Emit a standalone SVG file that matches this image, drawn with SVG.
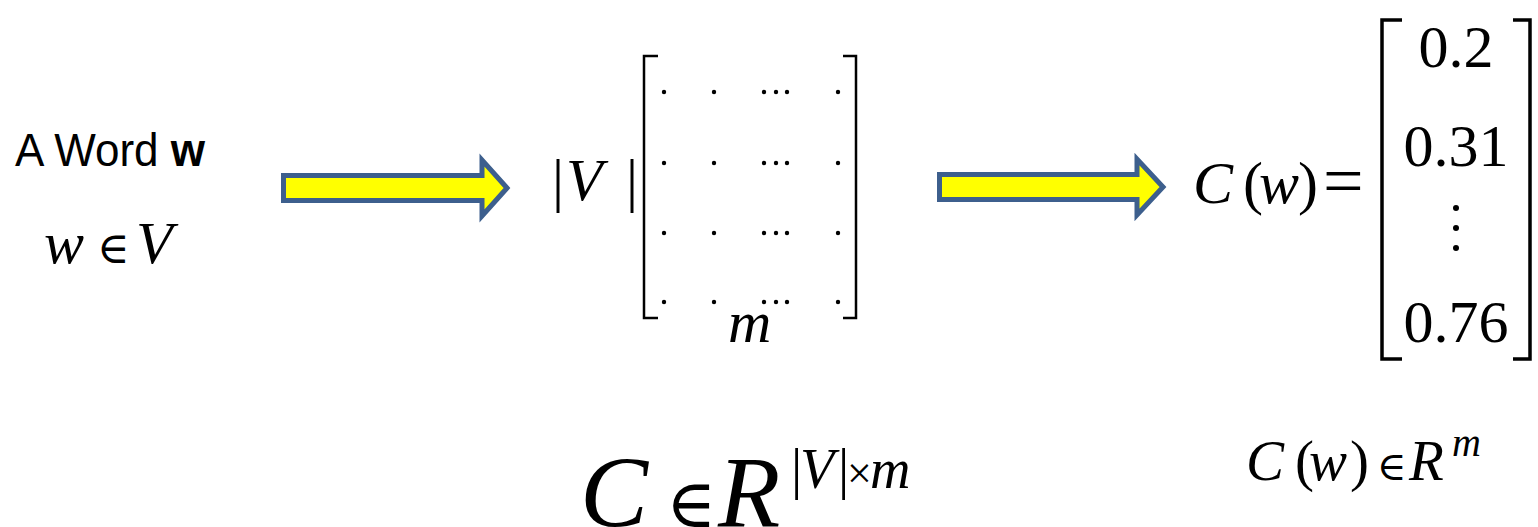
<svg xmlns="http://www.w3.org/2000/svg" width="1538" height="527" viewBox="0 0 1538 527">
<style>
.sans{font-family:"Liberation Sans","Open Sans",sans-serif;fill:#000}
.m{font-family:"Liberation Serif","DejaVu Serif",serif;fill:#000}
.i{font-style:italic}
.arrow{fill:#FFFF00;stroke:#3D5F8D;stroke-width:5;stroke-linejoin:miter}
.br{fill:none;stroke:#000;stroke-width:2.5}
.br2{fill:none;stroke:#000;stroke-width:3.5}
</style>
<g id="word">
<text class="sans" x="15" y="166" font-size="46" textLength="190" lengthAdjust="spacingAndGlyphs">A Word <tspan font-weight="bold">w</tspan></text>
<text class="m" y="263" font-size="60"><tspan class="i" x="44">w</tspan><tspan x="97" font-size="44">∈</tspan><tspan class="i" x="136">V</tspan></text>
</g>
<g id="connectors">
<path class="arrow" d="M283.5,175.5 H482 V160 L507,188 L482,216 V200.5 H283.5 Z"/>
<path class="arrow" d="M939.5,174.5 H1137 V159 L1163,187 L1137,215 V199.5 H939.5 Z"/>
</g>
<g id="matrix">
<text class="m" y="200" font-size="60"><tspan x="552">|</tspan><tspan class="i" x="566">V</tspan><tspan x="626">|</tspan></text>
<path class="br" d="M658,56 H644 V318 H658"/>
<path class="br" d="M843,56 H856 V318 H843"/>
<g fill="#000">
<circle cx="664" cy="92" r="2.2"/><circle cx="714" cy="92" r="2.2"/><circle cx="764" cy="92" r="2.2"/><circle cx="776" cy="92" r="2.2"/><circle cx="787" cy="92" r="2.2"/><circle cx="838" cy="92" r="2.2"/>
<circle cx="664" cy="163" r="2.2"/><circle cx="714" cy="163" r="2.2"/><circle cx="764" cy="163" r="2.2"/><circle cx="776" cy="163" r="2.2"/><circle cx="787" cy="163" r="2.2"/><circle cx="838" cy="163" r="2.2"/>
<circle cx="664" cy="233" r="2.2"/><circle cx="714" cy="233" r="2.2"/><circle cx="764" cy="233" r="2.2"/><circle cx="776" cy="233" r="2.2"/><circle cx="787" cy="233" r="2.2"/><circle cx="838" cy="233" r="2.2"/>
<circle cx="664" cy="302" r="2.2"/><circle cx="714" cy="302" r="2.2"/><circle cx="764" cy="302" r="2.2"/><circle cx="776" cy="302" r="2.2"/><circle cx="787" cy="302" r="2.2"/><circle cx="838" cy="302" r="2.2"/>
</g>
<text class="m i" x="728" y="342" font-size="60">m</text>
</g>
<g id="vector">
<text class="m" y="203" font-size="60"><tspan class="i" x="1193">C</tspan><tspan x="1243">(</tspan><tspan class="i" x="1259">w</tspan><tspan x="1298">)</tspan><tspan x="1323" y="205" font-size="72">=</tspan></text>
<path class="br2" d="M1402,20 H1382 V359 H1402"/>
<path class="br2" d="M1513,20 H1530 V359 H1513"/>
<g class="m" font-size="60" text-anchor="middle">
<text x="1456" y="67">0.2</text>
<text x="1456" y="166">0.31</text>
<text x="1456" y="342">0.76</text>
</g>
<g fill="#000"><circle cx="1456" cy="208" r="3"/><circle cx="1456" cy="228" r="3"/><circle cx="1456" cy="248" r="3"/></g>
</g>
<g id="formula-matrix">
<text class="m" y="527" font-size="102"><tspan class="i" x="580">C</tspan><tspan x="666" font-size="68">∈</tspan><tspan class="i" x="718">R</tspan><tspan font-size="56" y="488" x="791">|</tspan><tspan font-size="56" y="488" class="i" x="800">V</tspan><tspan font-size="56" y="488" x="838">|</tspan><tspan font-size="44" y="488" x="847">×</tspan><tspan font-size="56" y="488" class="i" x="870">m</tspan></text>
</g>
<g id="formula-vector">
<text class="m" y="480" font-size="57"><tspan class="i" x="1246">C</tspan><tspan x="1295">(</tspan><tspan class="i" x="1309">w</tspan><tspan x="1350">)</tspan><tspan x="1377" font-size="40">∈</tspan><tspan class="i" x="1409">R</tspan><tspan class="i" x="1452" y="456" font-size="40">m</tspan></text>
</g>
</svg>
